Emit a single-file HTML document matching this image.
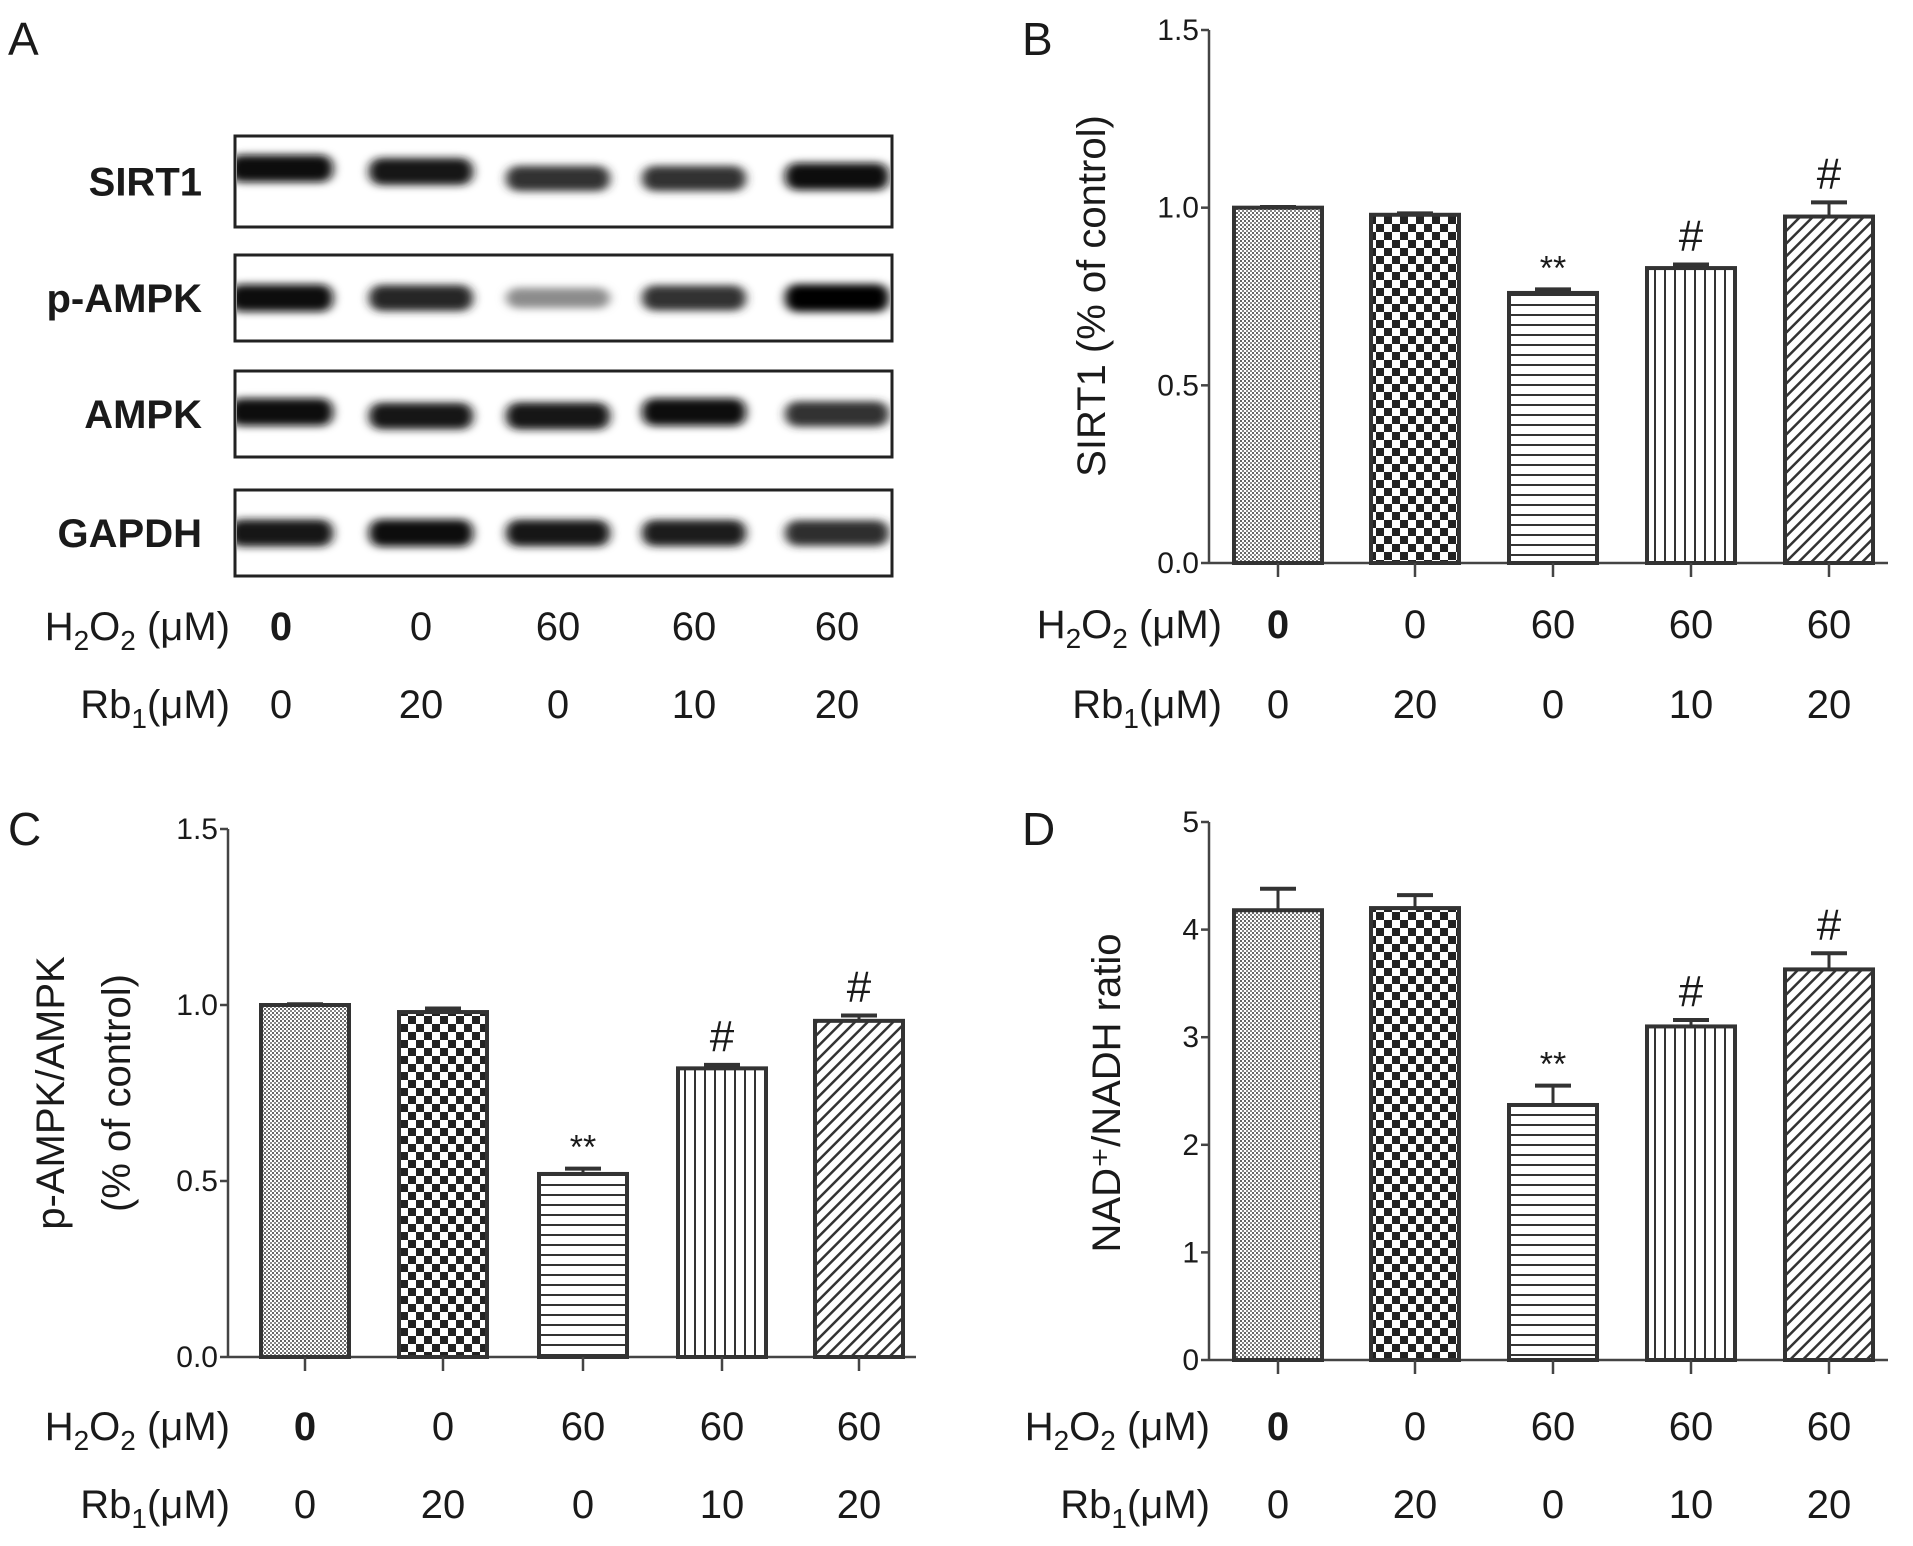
<!DOCTYPE html>
<html><head><meta charset="utf-8"><style>
html,body{margin:0;padding:0;background:#fff}
svg{display:block}
text{font-family:"Liberation Sans Narrow","Liberation Sans",sans-serif;fill:#1a1a1a}
</style></head><body>
<svg id="fig" width="1913" height="1546" viewBox="0 0 1913 1546" xmlns="http://www.w3.org/2000/svg">
<defs>
<filter id="blur" x="-20%" y="-80%" width="140%" height="260%"><feGaussianBlur stdDeviation="5 4"/></filter>
<pattern id="p0" width="4" height="4" patternUnits="userSpaceOnUse"><rect width="4" height="4" fill="#fff"/><rect width="2" height="2" fill="#666"/><rect x="2" y="2" width="2" height="2" fill="#888"/></pattern>
<pattern id="p1" width="16" height="16" patternUnits="userSpaceOnUse"><rect width="16" height="16" fill="#fff"/><rect width="8" height="8" fill="#222"/><rect x="8" y="8" width="8" height="8" fill="#222"/></pattern>
<pattern id="p2" width="10" height="10" patternUnits="userSpaceOnUse"><rect width="10" height="10" fill="#fff"/><rect y="4" width="10" height="2" fill="#333"/></pattern>
<pattern id="p3" width="10" height="10" patternUnits="userSpaceOnUse"><rect width="10" height="10" fill="#fff"/><rect x="4" width="2" height="10" fill="#333"/></pattern>
<pattern id="p4" width="9" height="9" patternUnits="userSpaceOnUse" patternTransform="rotate(45)"><rect width="9" height="9" fill="#fff"/><rect x="3" width="2.5" height="9" fill="#333"/></pattern>
<clipPath id="c0"><rect x="237" y="138" width="653" height="87"/></clipPath>
<clipPath id="c1"><rect x="237" y="257" width="653" height="82"/></clipPath>
<clipPath id="c2"><rect x="237" y="373" width="653" height="82"/></clipPath>
<clipPath id="c3"><rect x="237" y="492" width="653" height="82"/></clipPath>
</defs>
<g id="root"></g>
</svg>
<script>
// ---- data ----
const blotProteins = ["SIRT1","p-AMPK","AMPK","GAPDH"];
const blotIntensity = [[0.95,0.92,0.8,0.8,0.95],[0.95,0.85,0.45,0.8,0.98],[0.97,0.9,0.92,0.97,0.8],[0.92,0.95,0.9,0.88,0.82]];
const h2o2Labels = ["0","0","60","60","60"];
const rb1Labels = ["0","20","0","10","20"];
const sirt1Values = [1.0,0.98,0.76,0.83,0.975];
const sirt1Errors = [0.002,0.004,0.01,0.01,0.04];
const sirt1Marks = ["","","**","#","#"];
const ampkValues = [1.0,0.98,0.52,0.82,0.955];
const ampkErrors = [0.002,0.01,0.015,0.01,0.015];
const ampkMarks = ["","","**","#","#"];
const nadValues = [4.18,4.2,2.37,3.1,3.63];
const nadErrors = [0.2,0.12,0.18,0.06,0.15];
const nadMarks = ["","","**","#","#"];
const ticks15 = [0.0,0.5,1.0,1.5];
const tickLabels15 = ["0.0","0.5","1.0","1.5"];
const ticks5 = [0,1,2,3,4,5];
const tickLabels5 = ["0","1","2","3","4","5"];

const NS="http://www.w3.org/2000/svg";
const root=document.getElementById('root');
function el(tag,attrs,parent,txt){const e=document.createElementNS(NS,tag);for(const k in attrs)e.setAttribute(k,attrs[k]);if(txt!==undefined)e.textContent=txt;(parent||root).appendChild(e);return e;}

function panelLetter(x,y,t){
  const e=el('text',{x:x,y:y,'font-size':46},root,t);
  
  
}
function rowLabels(xLabelRight,xs,y1,y2,g){
  const t1=el('text',{x:xLabelRight,y:y1,'font-size':40,'text-anchor':'end'},g);
  
  
  t1.innerHTML='H<tspan font-size="28" dy="10">2</tspan><tspan dy="-10">O</tspan><tspan font-size="28" dy="10">2</tspan><tspan dy="-10"> (μM)</tspan>';
  const t2=el('text',{x:xLabelRight,y:y2,'font-size':40,'text-anchor':'end'},g);
  
  
  t2.innerHTML='Rb<tspan font-size="28" dy="10">1</tspan><tspan dy="-10">(μM)</tspan>';
  xs.forEach((x,i)=>{
    const a=el('text',{x:x,y:y1,'font-size':40,'text-anchor':'middle','font-weight':i===0?'bold':'normal'},g,h2o2Labels[i]);
    
    
    const b=el('text',{x:x,y:y2,'font-size':40,'text-anchor':'middle'},g,rb1Labels[i]);
    
    
  });
}

// ---- Panel A ----
panelLetter(8,55,'A');
const gA=el('g',{});


const boxY=[[136,227],[255,341],[371,457],[490,576]];
const laneX=[281,421,558,694,837];
const bandDy=[[-13,-10,-3,-3,-5],[0,0,0,0,0],[-2,2,2,-2,0],[0,0,0,0,0]];
blotProteins.forEach((p,r)=>{
  const [y0,y1]=boxY[r];
  const bx=el('rect',{x:235,y:y0,width:657,height:y1-y0,fill:'#fff',stroke:'#222','stroke-width':3},gA);
  
  
  const lb=el('text',{x:202,y:(y0+y1)/2+14,'font-size':40,'text-anchor':'end','font-weight':'bold'},gA,p);
  
  
  const cy=(y0+y1)/2;
  const cg=el('g',{'clip-path':`url(#c${r})`},gA);
  blotIntensity[r].forEach((v,i)=>{
    const g=Math.round(255*(1-v));
    const h=14+14*v;
    const band=el('rect',{x:laneX[i]-52,y:cy+bandDy[r][i]-h/2,width:104,height:h,rx:12,fill:`rgb(${g},${g},${g})`,filter:'url(#blur)'},cg);
    
    
  });
});
rowLabels(230,laneX,640,718,gA);

// ---- Bar chart builder ----
function barChart(cfg){
  const g=el('g',{});
  
  
  const yScale=v=>cfg.y0-(v-cfg.vmin)/(cfg.vmax-cfg.vmin)*(cfg.y0-cfg.yTop);
  const ax=el('line',{x1:cfg.axX,y1:cfg.yTop,x2:cfg.axX,y2:cfg.y0,stroke:'#444','stroke-width':2.5},g);
  
  
  const bx=el('line',{x1:cfg.axX,y1:cfg.y0,x2:cfg.xEnd,y2:cfg.y0,stroke:'#444','stroke-width':2.5},g);
  
  
  cfg.ticks.forEach((t,i)=>{
    const y=yScale(t);
    const tk=el('line',{x1:cfg.axX-8,y1:y,x2:cfg.axX,y2:y,stroke:'#444','stroke-width':2.5},g);
    
    
    const tl=el('text',{x:cfg.axX-10,y:y+10,'font-size':30,'text-anchor':'end',fill:'#333'},g,cfg.tickLabels[i]);
    
    
  });
  cfg.xs.forEach((x,i)=>{
    const v=cfg.values[i],e=cfg.errors[i];
    const yt=yScale(v),ye=yScale(v+e);
    const el1=el('line',{x1:x,y1:ye,x2:x,y2:yt,stroke:'#333','stroke-width':3},g);
    
    
    const cap=el('line',{x1:x-18,y1:ye,x2:x+18,y2:ye,stroke:'#333','stroke-width':4},g);
    
    
    const b=el('rect',{x:x-44,y:yt,width:88,height:cfg.y0-yt,fill:`url(#p${i})`,stroke:'#333','stroke-width':4},g);
    
    
    const tk=el('line',{x1:x,y1:cfg.y0,x2:x,y2:cfg.y0+14,stroke:'#444','stroke-width':2.5},g);
    
    
    const m=cfg.marks[i];
    if(m){
      const mt=el('text',{x:x,y:ye-(m==='#'?14:10),'font-size':m==='#'?44:34,'text-anchor':'middle'},g,m);
      
      
    }
  });
  cfg.title.forEach((t,k)=>{
    const tx=cfg.titleX+k*cfg.titleGap;
    const tt=el('text',{x:tx,y:cfg.titleY,'font-size':40,'text-anchor':'middle',transform:`rotate(-90 ${tx} ${cfg.titleY})`},g,t);
    
    
  });
  rowLabels(cfg.rowRight,cfg.xs,cfg.row1,cfg.row2,g);
}
const xsRight=[1278,1415,1553,1691,1829];
const xsLeft=[305,443,583,722,859];
panelLetter(1022,55,'B');
barChart({name:'sirt1-chart',axX:1209,yTop:30,y0:563,xEnd:1888,vmin:0,vmax:1.5,ticks:ticks15,tickLabels:tickLabels15,xs:xsRight,values:sirt1Values,errors:sirt1Errors,marks:sirt1Marks,title:['SIRT1 (% of control)'],titleX:1105,titleGap:0,titleY:296,rowRight:1222,row1:638,row2:718});
panelLetter(8,845,'C');
barChart({name:'pampk-chart',axX:228,yTop:829,y0:1357,xEnd:916,vmin:0,vmax:1.5,ticks:ticks15,tickLabels:tickLabels15,xs:xsLeft,values:ampkValues,errors:ampkErrors,marks:ampkMarks,title:['p-AMPK/AMPK','(% of control)'],titleX:64,titleGap:66,titleY:1093,rowRight:230,row1:1440,row2:1518});
panelLetter(1022,845,'D');
barChart({name:'nad-chart',axX:1209,yTop:822,y0:1360,xEnd:1888,vmin:0,vmax:5,ticks:ticks5,tickLabels:tickLabels5,xs:xsRight,values:nadValues,errors:nadErrors,marks:nadMarks,title:['NAD⁺/NADH ratio'],titleX:1120,titleGap:0,titleY:1093,rowRight:1210,row1:1440,row2:1518});
</script>
</body></html>
